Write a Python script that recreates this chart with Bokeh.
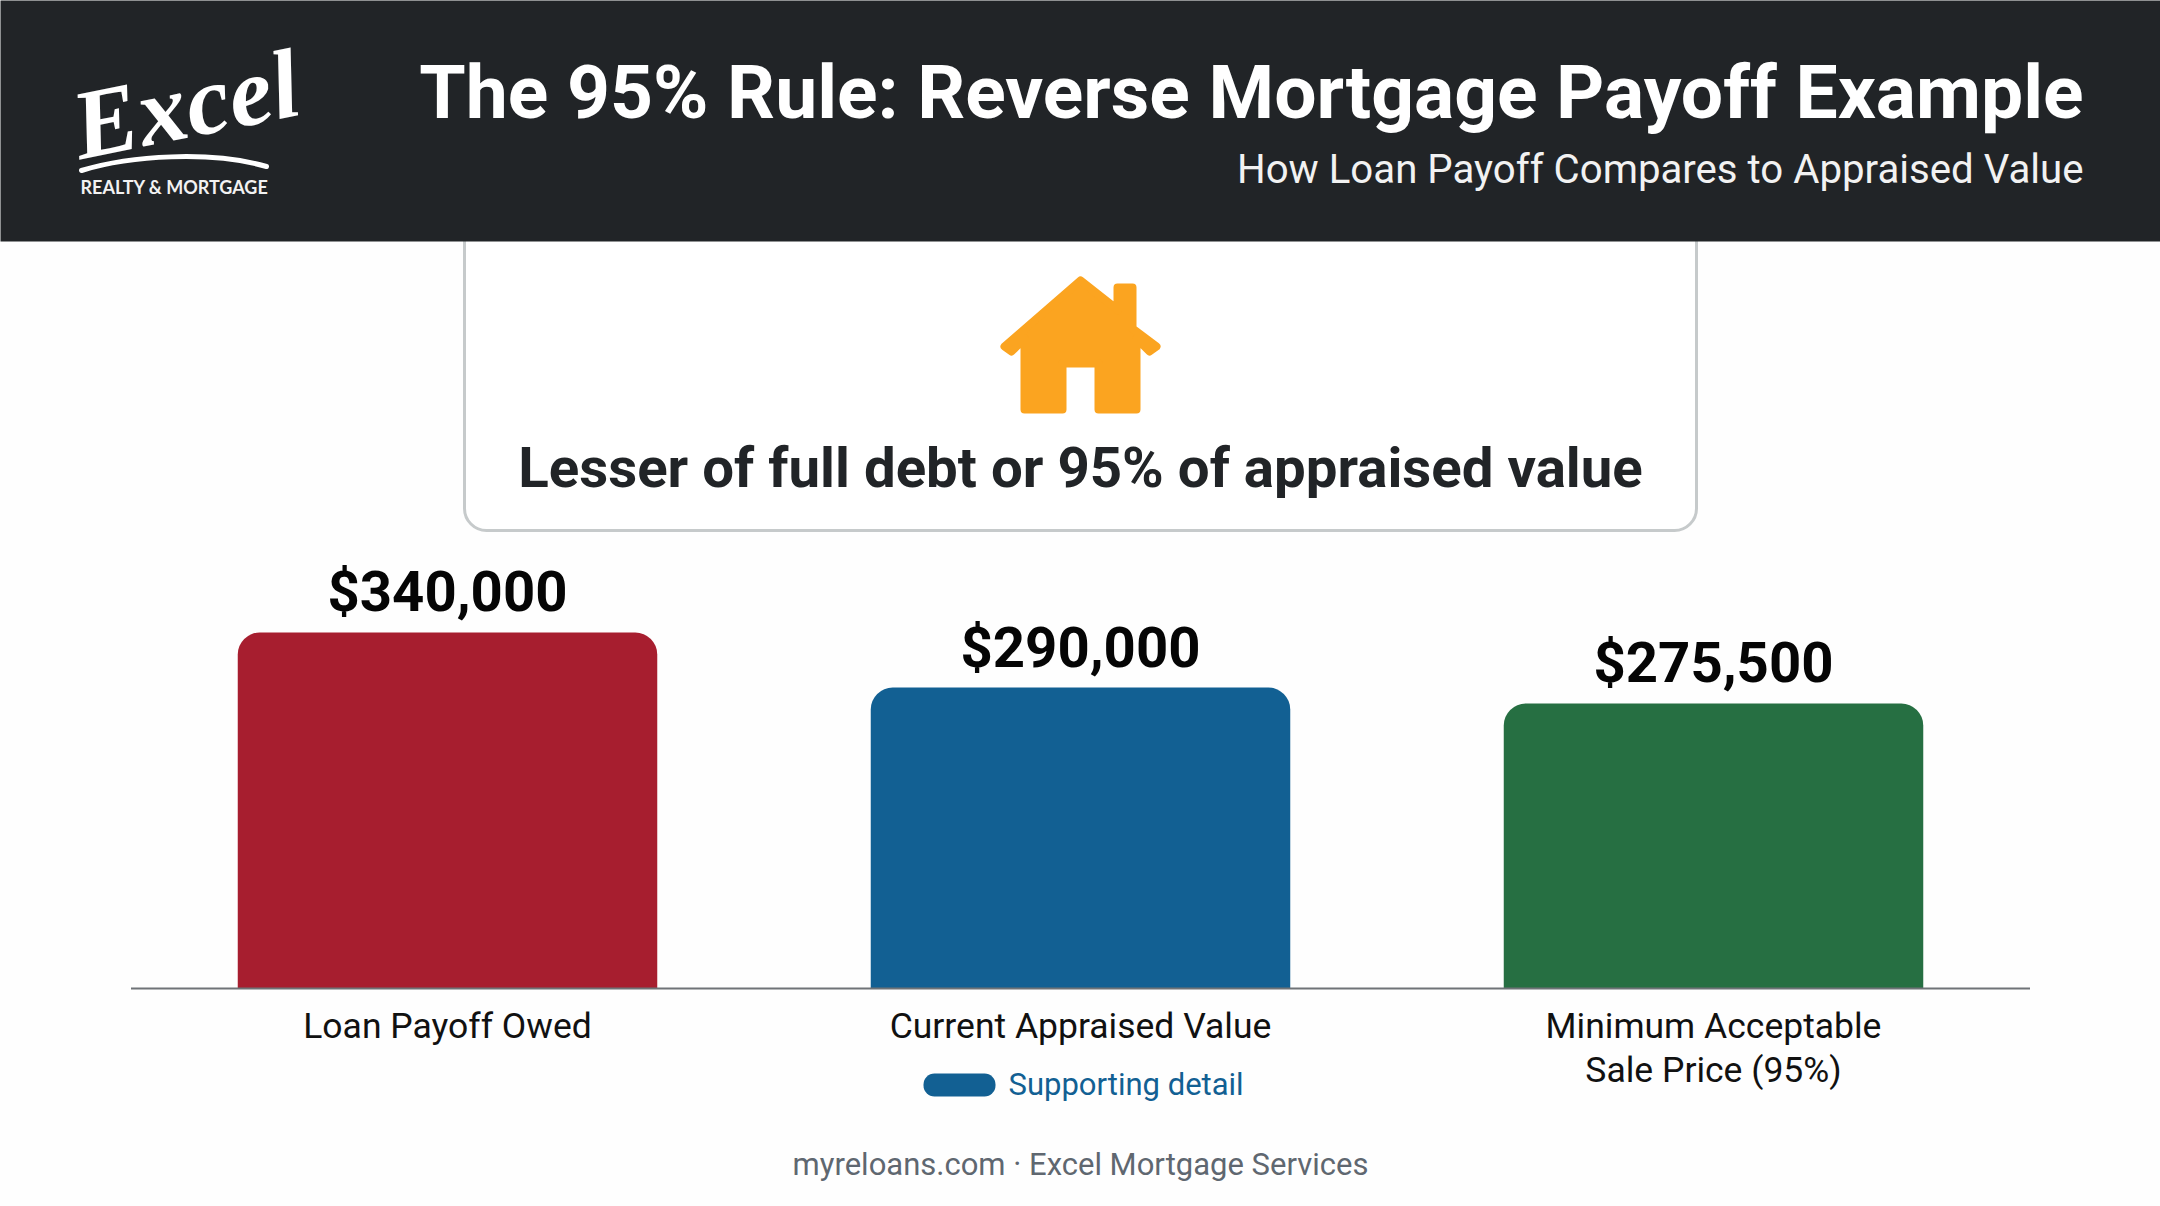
from bokeh.embed import file_html
from bokeh.resources import INLINE
from bokeh.plotting import figure
from bokeh.models import FactorRange, Range1d
from bokeh.core.properties import value

categories = ["Loan Payoff Owed", "Current Appraised Value", "Minimum Acceptable\nSale Price (95%)"]
values = [340000, 290000, 275500]
value_labels = ["$340,000", "$290,000", "$275,500"]
bar_colors = ["#A71E2F", "#126093", "#266F42"]
axis_base = 16600
y_start = -181440
y_end = 914100

title_text = "The 95% Rule: Reverse Mortgage Payoff Example"
subtitle_text = "How Loan Payoff Compares to Appraised Value"
callout_text = "Lesser of full debt or 95% of appraised value"
legend_text = "Supporting detail"
footer_text = "myreloans.com \u00b7 Excel Mortgage Services"

INK = "#212427"
W, H = 2160, 1206
STEP = 633.0
PAD = (W - 3 * STEP) / 2 / STEP


def fx(px_x):
    """canvas px -> position on the categorical x range (numbers are accepted there)"""
    return px_x / STEP - PAD


def fxs(seq):
    return [fx(v) for v in seq]


p = figure(
    width=W, height=H, output_backend="svg", toolbar_location=None,
    x_range=FactorRange(factors=categories, range_padding=PAD,
                        range_padding_units="absolute", factor_padding=0),
    y_range=Range1d(y_start, y_end),
    min_border_left=0, min_border_right=0, min_border_top=0, min_border_bottom=0,
    outline_line_color=None, background_fill_color="#FEFEFE", border_fill_color="#FEFEFE",
)
p.extra_y_ranges = {"py": Range1d(H, 0)}
py = dict(y_range_name="py")

p.grid.visible = False
p.yaxis.visible = False
p.xaxis.visible = False

# callout card (its top runs underneath the header band)
p.quad(left=[fx(464)], right=[fx(1696)], top=[200], bottom=[530], fill_color="#FFFFFF",
       line_color="#C6CACB", line_width=3, border_radius=22, **py)

# header band
p.quad(left=[fx(-5)], right=[fx(W + 5)], top=[-5], bottom=[241], fill_color=INK, line_color=None, **py)

# bars
p.vbar(x=categories, top=values, bottom=axis_base, width=419.5 / STEP, fill_color=bar_colors,
       line_color=None, border_radius=(22, 22, 0, 0))
p.text(x=categories, y=values, text=value_labels, text_font=value("Roboto"),
       text_font_style="bold", text_font_size="56.3px", text_color="#050505",
       text_align="center", text_baseline="middle", y_offset=-40)

# axis baseline and category labels
p.line(x=[0, 3], y=[axis_base, axis_base], line_color="#6F7377", line_width=2)
p.text(x=categories, y=[axis_base] * 3, text=categories, text_font=value("Roboto"),
       text_font_size="35.5px", text_color="#111111", text_align="center", text_baseline="top",
       text_line_height=1.03, y_offset=17)

# house icon
hx = [1080, 1113, 1117, 1117, 1132, 1132, 1156, 1149, 1136, 1136, 1098, 1098, 1062, 1062, 1024, 1024, 1011, 1004]
hy = [280, 306, 310, 287, 287, 328, 346, 351, 338, 409, 409, 363, 363, 409, 409, 338, 351, 346]
p.patch(fxs(hx), hy, fill_color="#FBA420", line_color="#FBA420", line_width=8, line_join="round", **py)

# header text
p.text(x=[fx(2083)], y=[91], text=[title_text], text_font=value("Roboto"), text_font_style="bold",
       text_font_size="75px", text_color="#FFFFFF", text_align="right", text_baseline="middle", **py)
p.text(x=[fx(2083)], y=[169], text=[subtitle_text], text_font=value("Roboto"),
       text_font_size="40.2px", text_color="#F2F2F2", text_align="right", text_baseline="middle", **py)

# logo swoosh and tagline
p.bezier(x0=[fx(81)], y0=[170], x1=[fx(266)], y1=[166], cx0=[fx(130)], cy0=[155], cx1=[fx(210)], cy1=[150],
         line_color="#FFFFFF", line_width=5, line_cap="round", **py)
p.text(x=[fx(174)], y=[186], text=["REALTY & MORTGAGE"], text_font=value("Lato"), text_font_style="bold",
       text_font_size="18px", text_color="#F2F2F2", text_align="center", text_baseline="middle", **py)

# callout text
p.text(x=[fx(1080)], y=[467], text=[callout_text], text_font=value("Roboto"), text_font_style="bold",
       text_font_size="56.4px", text_color=INK, text_align="center", text_baseline="middle", **py)

# legend pill and footer
p.quad(left=[fx(923)], right=[fx(995)], top=[1073], bottom=[1096], fill_color="#126093",
       line_color=None, border_radius=11, **py)
p.text(x=[fx(1008)], y=[1084], text=[legend_text], text_font=value("Roboto"), text_font_size="31px",
       text_color="#126093", text_align="left", text_baseline="middle", **py)
p.text(x=[fx(1080)], y=[1164], text=[footer_text], text_font=value("Roboto"), text_font_size="31px",
       text_color="#5F6770", text_align="center", text_baseline="middle", **py)

# logo wordmark
p.text(x=[fx(185)], y=[104], text=["Excel"], text_font=value("Liberation Serif"), text_font_style="bold italic",
       text_font_size="98px", text_color="#FFFFFF", text_align="center", text_baseline="middle",
       angle=0.2, **py)

open("out.html", "w").write(file_html(p, INLINE))
